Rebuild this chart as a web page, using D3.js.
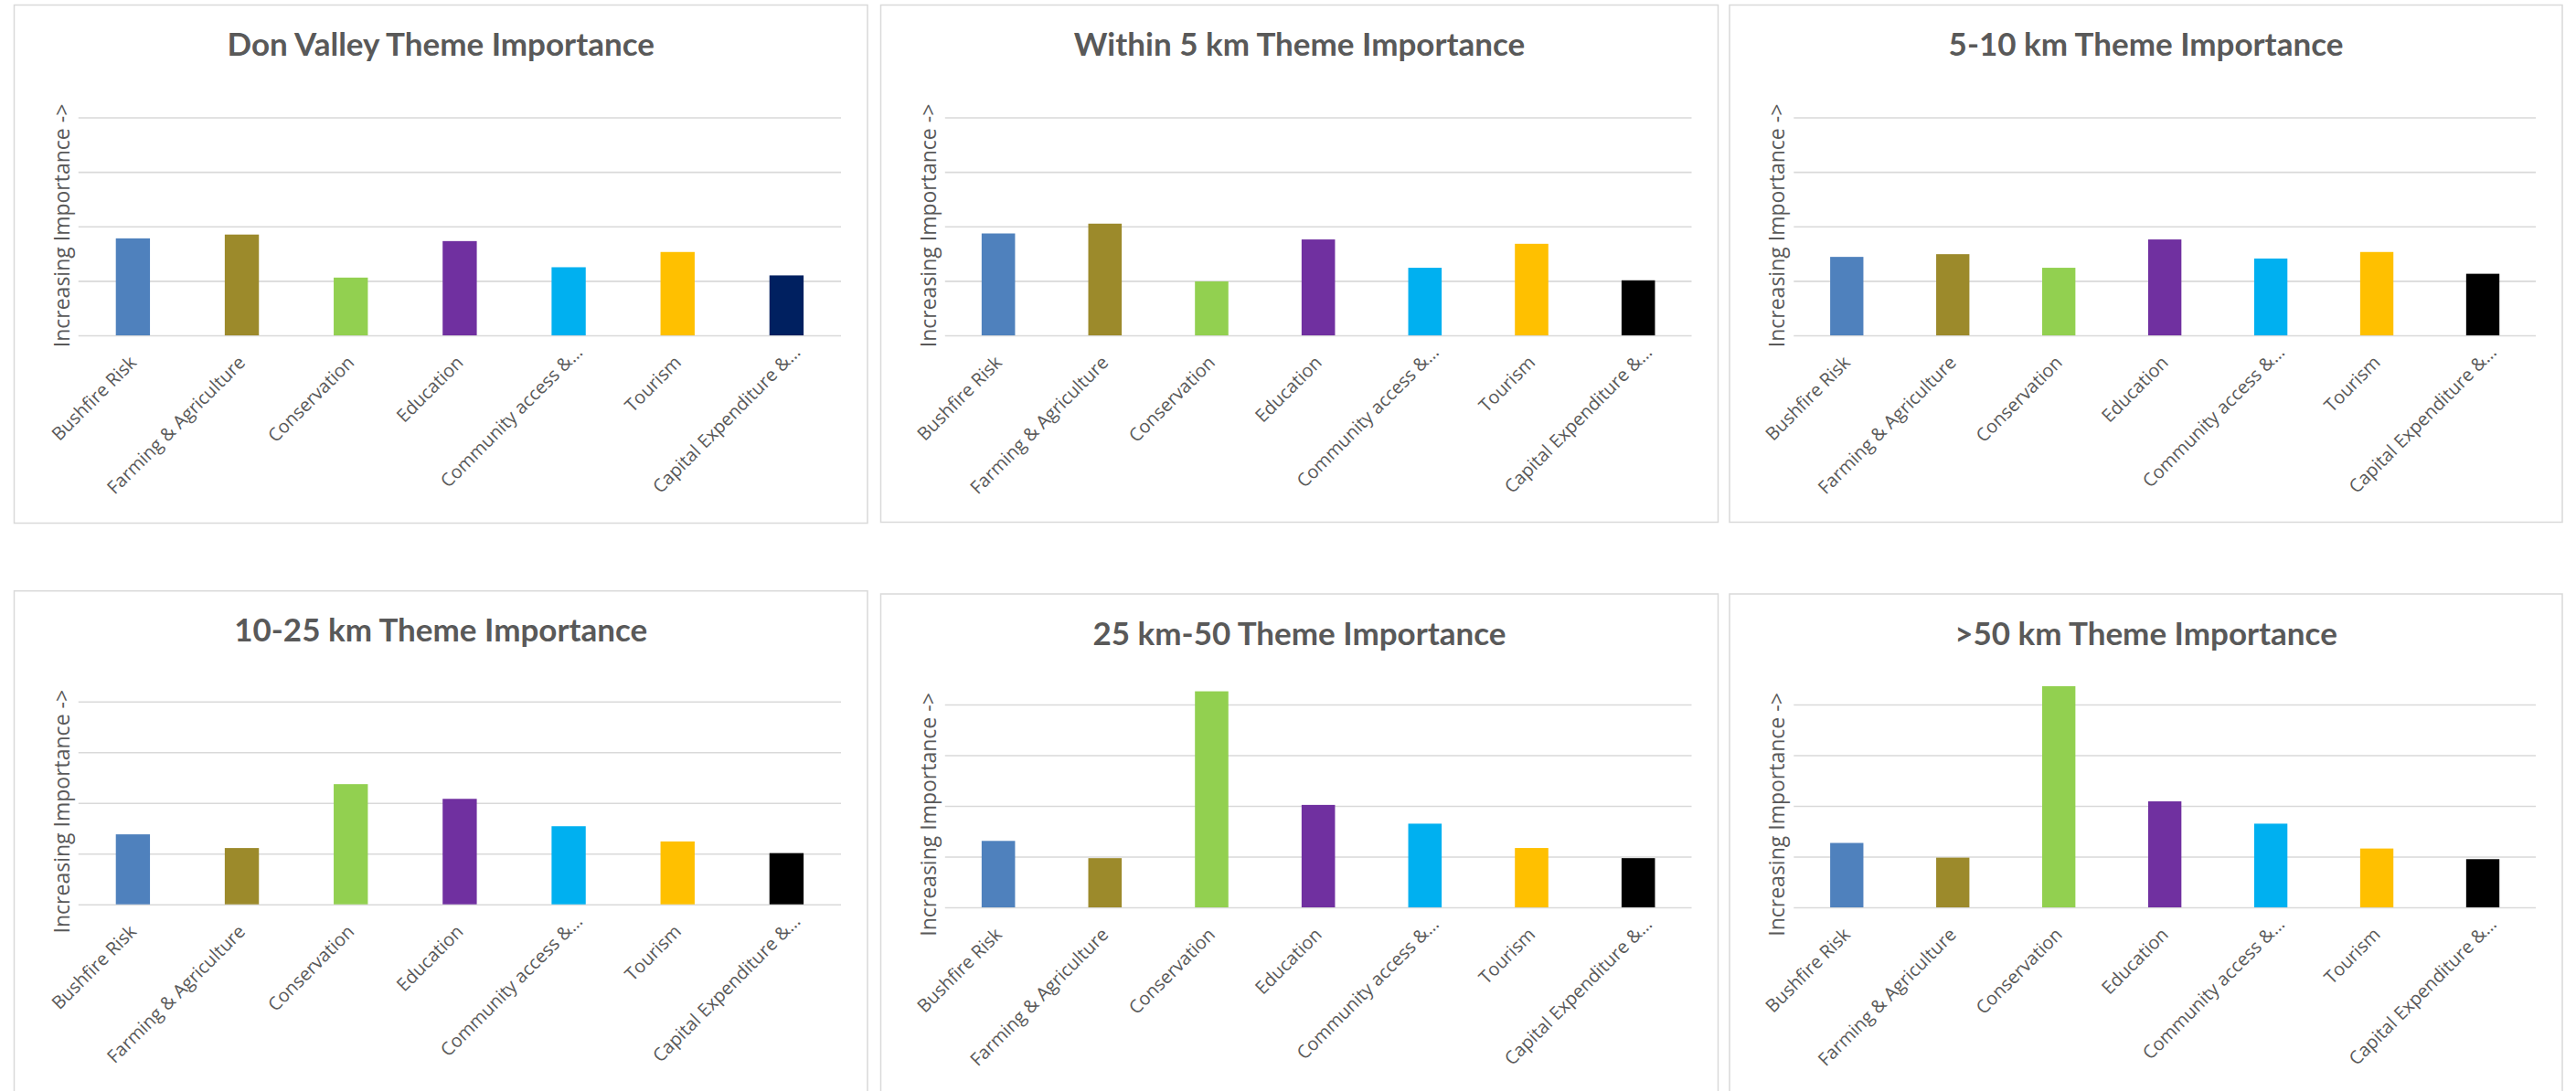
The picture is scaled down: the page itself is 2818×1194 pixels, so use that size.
<!DOCTYPE html>
<html>
<head>
<meta charset="utf-8">
<script src="https://cdn.jsdelivr.net/npm/d3@7"></script>
<style>
  html, body { margin: 0; padding: 0; background: #fff; }
  svg { display: block; }
</style>
</head>
<body>
<div id="charts"></div>
<script>

// Categories (labels as they appear, truncated by the spreadsheet)
var themes = ['Bushfire Risk', 'Farming & Agriculture', 'Conservation', 'Education',
  'Community access &…', 'Tourism', 'Capital Expenditure &…'];

var titles = ['Don Valley Theme Importance', 'Within 5 km Theme Importance', '5-10 km Theme Importance',
  '10-25 km Theme Importance', '25 km-50 Theme Importance', '>50 km Theme Importance'];

// Relative importance (unit = one gridline step)
var donValley = [1.78, 1.85, 1.06, 1.73, 1.25, 1.53, 1.10];
var within5km = [1.87, 2.05, 0.99, 1.76, 1.24, 1.68, 1.01];
var km5to10 = [1.44, 1.49, 1.24, 1.76, 1.41, 1.53, 1.13];
var km10to25 = [1.38, 1.11, 2.37, 2.08, 1.54, 1.24, 1.01];
var km25to50 = [1.31, 0.97, 4.26, 2.02, 1.65, 1.17, 0.97];
var over50km = [1.27, 0.98, 4.36, 2.09, 1.65, 1.16, 0.95];

var gridTicks = [0, 1, 2, 3, 4];

var series = [donValley, within5km, km5to10, km10to25, km25to50, over50km];

var themeColors = ['#4F81BD', '#9C8A2B', '#92D050', '#7030A0', '#00B0F0', '#FFC000', '#000000'];
var donValleyCapitalColor = '#002060';

var textColor = '#595959';
var lineColor = '#D9D9D9';

// panel boxes [x, y, w, h]
var boxes = [
  [15.5, 5.5, 933.5, 567],
  [963.5, 5.5, 916, 566],
  [1892, 5.5, 911, 566],
  [15.5, 646.7, 933.5, 600],
  [963.5, 650, 916, 600],
  [1892, 650, 911, 600]
];

var svg = d3.select('#charts').append('svg')
    .attr('width', 2818)
    .attr('height', 1194);

function drawPanel(i) {

  var b = { x: boxes[i][0], y: boxes[i][1], w: boxes[i][2], h: boxes[i][3] };
  var row = i < 3 ? 0 : 1;
  var values = series[i];

  var plotLeft = b.x + 70.3;
  var plotRight = b.x + b.w - 29;
  var plotTop = b.y + (row === 0 ? 123 : 121);
  var plotBottom = b.y + (row === 0 ? 361.5 : 343);

  var gap = 0.6865; // excel gap width 219%

  var x = d3.scaleBand()
    .domain(themes)
    .range([plotLeft, plotRight])
    .paddingInner(gap)
    .paddingOuter(gap / 2);

  var y = d3.scaleLinear()
    .domain([0, 4])
    .range([plotBottom, plotTop]);

  var g = svg.append('g');

  // Panel frame
  g.append('rect')
      .attr('x', b.x)
      .attr('y', b.y)
      .attr('width', b.w)
      .attr('height', b.h)
      .attr('fill', '#fff')
      .attr('stroke', lineColor)
      .attr('stroke-width', 1.5);

  // Title
  g.append('text')
      .attr('x', b.x + b.w / 2)
      .attr('y', b.y + 55.5)
      .attr('text-anchor', 'middle')
      .attr('font-family', 'Lato, sans-serif')
      .attr('font-weight', 'bold')
      .attr('font-size', 35)
      .attr('fill', textColor)
      .text(titles[i]);

  // Gridlines
  var grid = g.append('g')
      .attr('transform', 'translate(' + plotLeft + ',0)')
      .call(d3.axisLeft(y).tickValues(gridTicks).tickSize(-(plotRight - plotLeft)).tickFormat(''));

  grid.select('.domain').remove();
  grid.selectAll('line')
      .attr('stroke', lineColor)
      .attr('stroke-width', 1.6);

  // Bars
  g.append('g').selectAll('rect')
      .data(values)
      .enter()
    .append('rect')
      .attr('x', function (d, j) { return x(themes[j]); })
      .attr('y', function (d) { return y(d); })
      .attr('width', x.bandwidth())
      .attr('height', function (d) { return y(0) - y(d); })
      .attr('fill', function (d, j) {
        if (i === 0 && j === themes.length - 1) return donValleyCapitalColor;
        return themeColors[j];
      });

  // Category labels
  var xAxis = g.append('g')
      .attr('transform', 'translate(0,' + plotBottom + ')')
      .call(d3.axisBottom(x).tickSize(0).tickPadding(0));

  xAxis.select('.domain').remove();
  xAxis.attr('font-family', '"Open Sans", sans-serif').attr('font-size', 20);
  xAxis.selectAll('text')
      .attr('x', 0)
      .attr('y', 0)
      .attr('dy', 0)
      .attr('dx', function (d) { return d.indexOf('…') >= 0 ? 16 : 0; })
      .attr('fill', textColor)
      .attr('text-anchor', 'end')
      .attr('transform', 'translate(5,31) rotate(-45)');

  // Axis title
  g.append('text')
      .attr('transform', 'translate(' + (b.x + 60) + ',' + (b.y + 241.5) + ') rotate(-90)')
      .attr('text-anchor', 'middle')
      .attr('font-family', '"Open Sans", sans-serif')
      .attr('font-size', 23)
      .attr('fill', textColor)
      .text('Increasing Importance ->');
}

for (var i = 0; i < series.length; i++) {
  drawPanel(i);
}

</script>
</body>
</html>
